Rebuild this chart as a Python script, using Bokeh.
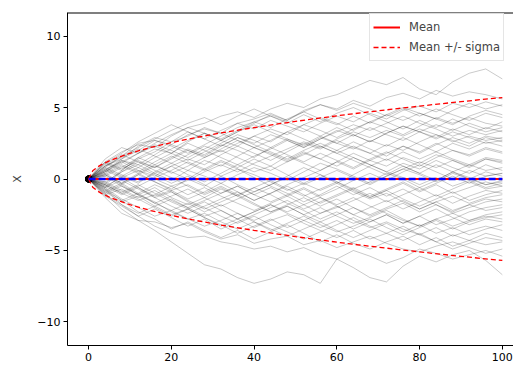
from bokeh.plotting import figure
from bokeh.models import Range1d, Legend, LegendItem, Label, FixedTicker, Span
from bokeh.embed import file_html
from bokeh.resources import INLINE

# ---- data ----
t = [0, 4, 8, 12, 16, 20, 24, 28, 32, 36, 40, 44, 48, 52, 56, 60, 64, 68, 72, 76, 80, 84, 88, 92, 96, 100]

paths = [
    [0, 1.2, 1.9, 2.4, 2.2, 3.0, 3.6, 3.9, 4.4, 4.7, 4.3, 4.9, 5.3, 5.0, 5.6, 5.9, 6.4, 6.9, 6.6, 7.1, 6.3, 5.9, 6.8, 7.4, 7.7, 7.0],
    [0, 0.8, 1.6, 2.5, 2.7, 2.4, 3.1, 3.5, 3.2, 3.9, 4.2, 4.6, 4.1, 4.8, 5.2, 4.9, 5.5, 5.1, 5.7, 6.0, 5.6, 6.2, 5.8, 6.1, 5.9, 5.6],
    [0, -1.0, -2.1, -2.9, -3.6, -4.4, -5.2, -6.0, -6.3, -6.9, -7.3, -7.0, -6.5, -6.7, -7.3, -5.6, -6.2, -6.9, -7.2, -6.1, -5.4, -5.8, -5.3, -5.0, -5.7, -6.7],
    [0, -0.7, -1.8, -2.6, -3.3, -3.8, -4.1, -4.0, -4.4, -4.6, -4.9, -4.7, -5.1, -4.8, -5.3, -5.6, -5.0, -5.4, -5.9, -5.5, -4.9, -5.2, -5.6, -5.3, -5.0, -5.4],
    [0, -1.3, -2.4, -2.9, -3.0, -3.4, -3.1, -3.7, -4.2, -3.9, -4.5, -4.2, -4.0, -4.6, -4.3, -4.8, -4.4, -4.0, -4.5, -4.9, -5.1, -4.7, -4.4, -4.8, -5.2, -4.9],
    [0, 0.9, 1.4, 2.3, 2.9, 2.6, 3.3, 2.8, 3.4, 3.9, 3.5, 4.1, 3.7, 3.3, 3.9, 4.4, 4.0, 4.6, 4.2, 4.8, 5.1, 4.7, 5.3, 5.0, 5.4, 5.1],
    [0, 1.1, 0.6, 1.5, 2.1, 1.8, 2.6, 3.2, 2.7, 2.3, 3.0, 3.5, 3.1, 3.8, 4.3, 3.9, 3.4, 4.0, 4.5, 4.1, 4.6, 4.2, 3.8, 4.4, 4.8, 4.5],
    [0, 0.5, 1.3, 1.0, 1.7, 2.4, 2.0, 1.6, 2.3, 2.9, 2.5, 3.1, 2.7, 2.2, 2.8, 3.4, 3.0, 3.6, 3.1, 2.7, 3.3, 3.8, 3.4, 3.9, 3.5, 4.0],
    [0, -0.4, 0.5, 1.2, 0.8, 1.5, 2.1, 1.7, 2.4, 2.0, 1.5, 2.2, 2.8, 2.3, 2.9, 2.5, 3.1, 2.6, 3.2, 3.7, 3.3, 2.9, 3.5, 3.1, 3.6, 3.3],
    [0, 0.7, 1.2, 0.6, 0.2, 0.9, 1.4, 1.0, 1.7, 2.3, 1.8, 1.3, 1.9, 2.5, 2.1, 2.7, 2.2, 1.8, 2.4, 2.0, 2.6, 3.1, 2.7, 2.3, 2.9, 2.6],
    [0, -0.6, 0.2, -0.3, 0.5, 1.1, 0.6, 1.3, 0.9, 1.6, 2.2, 1.7, 1.2, 1.8, 1.4, 2.0, 2.6, 2.1, 1.6, 2.3, 1.9, 2.5, 2.0, 1.7, 2.2, 1.9],
    [0, 0.4, -0.3, 0.3, 0.9, 0.5, 0.0, 0.7, 1.3, 0.8, 1.4, 0.9, 1.6, 1.1, 0.6, 1.2, 1.8, 1.3, 0.9, 1.5, 1.1, 1.7, 1.3, 0.8, 1.4, 1.2],
    [0, -0.3, 0.6, 1.4, 1.9, 2.6, 3.0, 3.6, 3.2, 2.7, 2.2, 1.8, 1.3, 1.9, 1.4, 0.9, 1.5, 1.0, 0.5, 1.1, 0.7, 1.3, 0.8, 0.4, 1.0, 0.6],
    [0, 0.8, 0.3, -0.2, 0.4, -0.1, 0.6, 0.2, -0.3, 0.3, 0.8, 0.4, -0.1, 0.5, 1.1, 0.7, 0.2, -0.3, 0.2, 0.7, 0.3, -0.2, 0.4, 0.0, 0.5, 0.2],
    [0, -0.9, -0.4, 0.3, -0.2, -0.7, 0.0, -0.5, 0.2, 0.7, 0.3, -0.2, -0.8, -0.3, 0.3, -0.2, -0.7, -0.2, 0.4, 0.0, -0.6, -0.1, 0.5, 0.1, -0.4, -0.1],
    [0, 0.3, 0.9, 0.4, -0.2, -0.8, -0.4, -1.0, -0.5, -1.1, -0.6, -0.1, -0.7, -1.2, -0.7, -0.2, -0.8, -1.3, -0.8, -0.3, -0.9, -0.4, -1.0, -0.6, -0.2, -0.5],
    [0, -0.5, -1.1, -0.6, -1.2, -0.8, -1.4, -0.9, -0.3, -0.9, -1.5, -1.0, -0.5, -1.1, -1.7, -1.2, -0.7, -1.3, -0.8, -1.4, -1.9, -1.4, -0.9, -1.5, -1.1, -0.8],
    [0, 0.6, 0.1, -0.6, -1.3, -0.9, -1.6, -2.1, -1.6, -1.1, -1.7, -2.3, -1.8, -1.3, -1.9, -1.4, -2.0, -2.5, -2.0, -1.5, -2.1, -1.6, -1.2, -1.7, -1.3, -1.1],
    [0, -0.8, -0.3, -1.0, -1.7, -2.2, -1.7, -2.3, -1.8, -2.4, -2.9, -2.4, -1.9, -2.5, -3.0, -2.5, -2.0, -2.6, -2.1, -1.7, -2.3, -1.8, -2.4, -2.0, -1.6, -1.4],
    [0, -1.1, -0.7, -1.3, -0.8, -1.5, -2.0, -2.6, -2.2, -2.8, -2.3, -1.8, -2.4, -2.9, -3.4, -2.9, -3.5, -3.0, -2.5, -3.1, -2.6, -3.2, -2.8, -2.3, -2.0, -1.8],
    [0, 0.2, -0.5, -1.1, -1.6, -2.3, -2.8, -2.4, -3.0, -3.5, -3.0, -3.6, -3.1, -2.6, -3.2, -3.7, -3.3, -2.8, -3.4, -3.9, -3.4, -2.9, -3.5, -3.0, -2.7, -2.5],
    [0, -0.6, -1.4, -2.0, -2.6, -2.2, -2.8, -3.3, -2.9, -2.4, -3.0, -3.5, -4.0, -3.5, -3.0, -3.6, -4.1, -3.6, -3.1, -3.7, -3.2, -3.8, -3.4, -3.9, -3.5, -3.2],
    [0, -0.9, -1.6, -1.2, -1.9, -2.5, -2.1, -1.6, -2.2, -2.8, -3.4, -2.9, -2.5, -3.1, -3.6, -4.1, -3.6, -4.2, -3.8, -3.3, -3.9, -4.4, -3.9, -4.3, -3.8, -4.1],
    [0, 1.0, 1.7, 1.2, 0.6, 0.1, -0.5, -1.1, -0.6, -1.2, -1.8, -2.3, -1.9, -2.5, -2.0, -2.6, -3.1, -2.7, -2.2, -2.8, -3.3, -2.8, -3.3, -2.9, -2.5, -2.3],
    [0, 0.5, 1.1, 1.8, 2.3, 1.8, 2.5, 2.0, 1.5, 1.0, 0.5, 0.9, 0.3, -0.3, -0.8, -0.3, -0.9, -1.4, -1.0, -1.6, -2.1, -1.6, -2.2, -1.8, -1.4, -1.6],
    [0, -0.4, -1.0, -1.5, -1.1, -0.5, -0.1, 0.5, 1.0, 0.5, 1.1, 1.6, 2.1, 2.6, 2.2, 2.8, 3.3, 2.9, 3.4, 3.0, 3.5, 3.1, 2.6, 3.0, 2.7, 2.9],
    [0, 0.9, 1.5, 2.1, 1.6, 1.1, 1.7, 2.3, 1.9, 2.5, 3.0, 2.6, 3.3, 3.8, 3.4, 2.9, 3.5, 4.0, 3.6, 3.1, 3.7, 4.3, 3.9, 4.3, 3.9, 3.7],
    [0, 1.4, 2.2, 1.8, 2.5, 3.1, 3.6, 3.2, 2.7, 3.3, 3.8, 3.3, 2.8, 2.4, 3.0, 2.5, 2.1, 2.7, 2.3, 2.9, 2.4, 1.9, 2.5, 2.1, 2.6, 2.3],
    [0, -1.2, -1.9, -2.6, -2.1, -2.7, -3.3, -2.8, -3.5, -3.0, -2.5, -2.0, -1.5, -2.1, -1.6, -1.1, -0.6, -1.2, -0.7, -0.2, -0.8, -0.3, 0.2, -0.3, 0.2, 0.4],
    [0, 0.6, 1.4, 2.0, 2.7, 2.3, 1.8, 2.4, 3.0, 3.6, 4.0, 3.6, 4.2, 4.7, 4.2, 3.8, 4.4, 3.9, 4.5, 5.0, 4.6, 4.2, 4.8, 5.3, 4.9, 5.2],
    [0, -0.7, -1.5, -2.3, -2.8, -3.5, -3.0, -3.6, -4.1, -3.6, -4.2, -3.7, -3.2, -3.8, -4.4, -3.9, -4.5, -4.9, -4.4, -4.0, -4.6, -4.1, -4.7, -4.3, -4.6, -4.4],
    [0, 0.3, -0.4, -1.1, -0.6, -1.3, -1.8, -1.3, -0.7, -1.2, -0.6, -1.1, -1.7, -2.2, -2.8, -2.3, -2.9, -3.4, -3.0, -3.5, -3.9, -3.4, -4.0, -3.6, -3.3, -3.6],
    [0, -0.2, 0.5, 1.0, 0.4, 0.9, 0.3, -0.2, 0.4, 1.0, 1.6, 2.1, 2.7, 2.2, 2.8, 3.3, 3.8, 3.4, 3.9, 4.4, 3.9, 3.5, 3.0, 3.4, 3.1, 3.4],
    [0, 1.1, 1.8, 2.6, 3.2, 3.8, 3.3, 2.8, 2.3, 2.9, 2.4, 1.9, 1.4, 2.0, 2.5, 2.0, 1.5, 1.0, 0.5, 0.1, -0.4, 0.1, -0.5, -0.1, -0.6, -0.3],
    [0, -1.0, -0.5, -1.1, -1.7, -1.2, -0.7, -1.3, -1.9, -1.4, -0.9, -0.4, 0.1, -0.4, 0.1, 0.6, 0.1, -0.4, 0.2, 0.7, 1.2, 0.8, 1.3, 0.9, 1.4, 1.1],
    [0, 0.4, 1.0, 0.5, 1.2, 1.8, 1.3, 1.9, 2.5, 3.1, 2.7, 2.2, 1.7, 1.2, 1.8, 1.3, 0.8, 1.4, 1.9, 1.4, 0.9, 1.5, 2.0, 1.6, 2.1, 1.8],
    [0, -0.3, -0.9, -0.4, -1.0, -1.6, -2.1, -2.7, -3.2, -3.8, -3.3, -2.8, -3.4, -2.9, -2.4, -1.9, -2.5, -2.0, -1.5, -2.1, -1.6, -1.1, -1.7, -1.2, -0.8, -1.0],
    [0, 0.7, 0.2, 0.8, 1.5, 2.1, 2.7, 3.2, 2.8, 3.4, 4.0, 4.4, 4.0, 3.5, 3.0, 3.6, 3.1, 2.6, 3.2, 3.7, 3.3, 2.8, 3.3, 2.9, 2.5, 2.7],
    [0, -0.5, 0.1, 0.6, 0.0, -0.5, -1.1, -0.6, -1.2, -1.7, -2.2, -1.7, -1.2, -0.7, -1.3, -1.8, -1.3, -1.9, -2.4, -2.9, -3.3, -2.8, -2.4, -2.9, -2.6, -2.8],
    [0, 0.2, 0.8, 1.5, 1.0, 0.4, 0.9, 1.5, 2.0, 1.5, 1.0, 0.6, 1.2, 1.7, 2.3, 1.8, 1.3, 0.8, 0.3, 0.9, 0.4, -0.1, 0.5, 1.0, 0.6, 0.8],
    [0, -0.4, -1.0, -0.5, 0.1, 0.6, 1.2, 0.7, 0.2, -0.4, -0.9, -0.4, 0.2, 0.8, 0.3, -0.3, 0.3, 0.9, 1.4, 0.9, 0.4, 1.0, 0.5, 0.0, -0.4, -0.2],
    [0, 0.6, 1.3, 0.8, 0.3, -0.3, 0.2, -0.4, -1.0, -0.5, -1.1, -1.6, -1.1, -0.6, -1.2, -0.7, -0.1, 0.4, -0.1, 0.5, 1.0, 0.5, 0.0, 0.6, 0.2, 0.4],
    [0, -0.8, -1.5, -1.0, -0.4, -0.9, -1.5, -2.0, -2.6, -3.1, -2.6, -3.2, -3.7, -4.2, -3.7, -3.2, -2.7, -3.3, -3.8, -4.3, -3.8, -4.4, -4.9, -4.5, -4.1, -4.3],
    [0, 0.9, 1.6, 2.2, 2.8, 3.4, 3.9, 4.3, 3.8, 4.4, 4.9, 4.4, 3.9, 4.5, 4.0, 4.6, 5.0, 4.5, 4.0, 3.5, 4.1, 3.6, 4.2, 3.7, 3.3, 3.6],
    [0, 0.3, -0.3, 0.4, 1.0, 1.6, 1.1, 0.6, 1.2, 0.7, 0.1, -0.5, -1.0, -1.6, -1.1, -0.5, -1.1, -0.6, -1.2, -0.7, -1.3, -1.8, -2.3, -1.8, -2.2, -2.0],
    [0, -0.6, -0.1, -0.7, -1.3, -1.9, -2.4, -1.9, -1.4, -0.9, -1.5, -1.0, -0.4, 0.1, 0.6, 1.2, 0.7, 1.3, 1.8, 2.3, 1.8, 2.4, 2.9, 2.5, 3.0, 2.8],
    [0, 1.2, 0.7, 1.3, 0.8, 1.4, 2.0, 1.5, 2.1, 2.7, 2.2, 2.7, 3.3, 2.8, 2.3, 1.8, 2.3, 1.8, 1.3, 1.9, 1.4, 1.9, 1.4, 1.0, 1.5, 1.3],
    [0, -1.1, -1.8, -2.4, -1.9, -1.4, -2.0, -1.5, -1.0, -0.5, -1.1, -0.6, -1.2, -1.8, -1.3, -1.9, -2.5, -3.0, -2.5, -3.1, -2.6, -2.1, -2.7, -3.2, -2.8, -3.0],
    [0, 0.5, 1.2, 1.8, 2.4, 2.0, 1.5, 2.1, 2.7, 3.3, 3.9, 4.5, 4.1, 4.7, 5.2, 4.8, 5.3, 4.9, 4.4, 4.9, 4.4, 4.9, 4.5, 4.1, 4.6, 4.3],
    [0, -0.2, -0.8, -1.4, -2.0, -2.6, -2.1, -2.7, -3.3, -2.8, -2.3, -1.8, -2.3, -1.8, -2.4, -2.0, -1.5, -1.0, -1.6, -1.1, -0.6, -1.2, -0.7, -0.2, -0.7, -0.5],
]

t_band = [0, 1, 2, 3, 5, 10, 15, 20, 25, 30, 35, 40, 45, 50, 55, 60, 65, 70, 75, 80, 85, 90, 95, 100]
mean_vals = [0] * len(t_band)
sigma_vals = [0, 0.57, 0.81, 0.99, 1.27, 1.80, 2.21, 2.55, 2.85, 3.12, 3.37, 3.60, 3.82, 4.03,
              4.23, 4.42, 4.60, 4.77, 4.94, 5.10, 5.26, 5.41, 5.56, 5.70]
upper_vals = [m + s for m, s in zip(mean_vals, sigma_vals)]
lower_vals = [m - s for m, s in zip(mean_vals, sigma_vals)]

x_ticks = [0, 20, 40, 60, 80, 100]
y_ticks = [-10, -5, 0, 5, 10]
y_tick_labels = {-10: "\u221210", -5: "\u22125", 0: "0", 5: "5", 10: "10"}

FONT = "DejaVu Sans"
Y_TOP = 11.65

p = figure(width=513, height=365, output_backend="svg", toolbar_location=None,
           x_range=Range1d(-5.1, 102.7), y_range=Range1d(-Y_TOP, Y_TOP),
           min_border_left=67, min_border_right=0, min_border_top=12, min_border_bottom=20)
p.background_fill_color = "white"
p.border_fill_color = "white"
p.outline_line_color = None
p.xgrid.visible = False
p.ygrid.visible = False

for ys in paths:
    p.line(t, ys, line_color="black", line_width=0.6, line_alpha=0.36)

p.scatter([t[0]] * len(paths), [ys[0] for ys in paths], size=6, color="black", alpha=0.2)

r_mean = p.line(t_band, mean_vals, line_color="red", line_width=2)
r_up = p.line(t_band, upper_vals, line_color="red", line_width=1.3, line_dash="5 3")
p.line(t_band, lower_vals, line_color="red", line_width=1.3, line_dash="5 3")
p.line(t_band, mean_vals, line_color="blue", line_width=2.5, line_dash="7 3")

legend = Legend(items=[LegendItem(label="Mean", renderers=[r_mean]),
                       LegendItem(label="Mean +/- sigma", renderers=[r_up])],
                location=(302, 284))
legend.margin = 0
legend.padding = 3
legend.spacing = 0
legend.glyph_width = 27
legend.label_standoff = 9
legend.label_text_font = FONT
legend.label_text_font_size = "11.5px"
legend.label_height = 20
legend.glyph_height = 20
legend.border_line_color = "#cccccc"
legend.background_fill_alpha = 0.85
p.add_layout(legend)

# top edge of the axes box (the right edge lies outside the window)
p.add_layout(Span(location=Y_TOP, dimension="width", line_color="black", line_width=2))

p.xaxis.ticker = FixedTicker(ticks=x_ticks)
p.yaxis.ticker = FixedTicker(ticks=y_ticks)
p.yaxis.major_label_overrides = y_tick_labels
for ax in (p.xaxis[0], p.yaxis[0]):
    ax.axis_line_color = "black"
    ax.major_tick_line_color = "black"
    ax.major_tick_in = 0
    ax.major_tick_out = 4
    ax.minor_tick_line_color = None
    ax.major_label_text_font = FONT
    ax.major_label_text_font_size = "11px"
    ax.major_label_text_color = "black"
    ax.major_label_standoff = 3
p.yaxis.axis_label = "X"
p.yaxis.axis_label_text_font = FONT
p.yaxis.axis_label_text_font_size = "11px"
p.yaxis.axis_label_text_font_style = "normal"
p.yaxis.axis_label_standoff = 10

p.add_layout(Label(x=35, y=Y_TOP, y_offset=3, text=".", text_font=FONT, text_font_size="8px",
                   text_align="center", text_baseline="bottom"))

open("out.html", "w").write(file_html(p, INLINE))
